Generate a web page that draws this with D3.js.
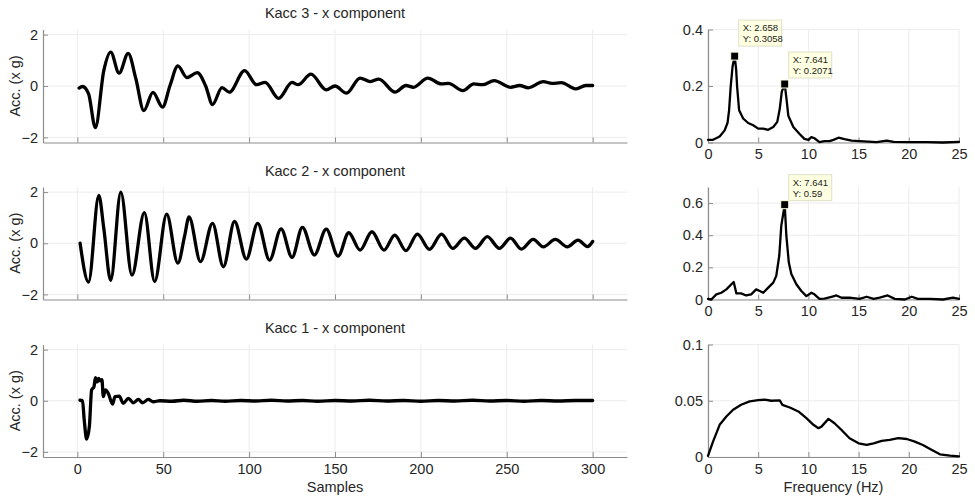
<!DOCTYPE html>
<html><head><meta charset="utf-8">
<script src="https://cdn.jsdelivr.net/npm/d3@7"></script>
<style>
html,body{margin:0;padding:0;background:#fff;}
svg{display:block;font-family:"Liberation Sans",Arial,sans-serif;}
</style></head>
<body>
<svg id="chart" width="975" height="499"></svg>
<script>
// ---------- DATA ----------
const sampleTicks = [0, 50, 100, 150, 200, 250, 300];
const accTicks = [-2, 0, 2];
const freqTicks = [0, 5, 10, 15, 20, 25];
const titles = ["Kacc 3 - x component", "Kacc 2 - x component", "Kacc 1 - x component"];

// Kacc 3 time history: [sample, acc]
const kacc3 = [[1,-0.08],[3,-0.02],[6.5,-0.3],[10.5,-1.62],[15.4,0.6],[19.4,1.32],[24.3,0.5],[29.6,1.27],[34,0.3],[38.7,-0.96],[44,-0.25],[49.6,-0.82],[54,0.03],[58.5,0.78],[63.8,0.33],[69.8,0.52],[74.7,0.0],[78.7,-0.72],[84.2,-0.06],[88.5,-0.24],[97.4,0.6],[104.3,0.05],[109.3,0.14],[117.2,-0.48],[125,0.14],[128.5,0.05],[136,0.46],[144.9,-0.15],[150,0.0],[156.7,-0.28],[164.6,0.31],[170.6,0.17],[175.5,0.27],[185,-0.24],[191.3,0.02],[195.7,-0.05],[204,0.31],[212,0.08],[216,0.1],[224.5,-0.18],[230.8,0.08],[235.8,0.05],[242.7,0.21],[252.2,-0.05],[257.5,0.02],[262.5,-0.07],[271.3,0.17],[276.3,0.1],[281.8,0.13],[290,-0.11],[296,0.02],[300,0.02]];

// Kacc 2 time history
const kacc2 = [[1.6,0.0],[6.5,-1.52],[12.5,1.87],[15.4,0.58],[19.4,-1.45],[25.3,2.0],[31.8,-1.25],[39,1.2],[45,-1.5],[52,1.14],[58.5,-0.78],[62.5,0.3],[65,1.03],[71.7,-0.72],[78.7,0.78],[85,-0.92],[91.5,0.85],[98.4,-0.62],[105,0.78],[111.9,-0.66],[118.6,0.56],[125,-0.55],[131,0.62],[138,-0.46],[144.9,0.55],[151.8,-0.5],[158,0.41],[164.6,-0.27],[171.5,0.45],[178.5,-0.27],[184.8,0.32],[191.3,-0.29],[198,0.36],[205,-0.24],[212,0.36],[218.6,-0.2],[225.3,0.2],[231.8,-0.2],[238.7,0.26],[245.7,-0.2],[252.2,0.2],[258.5,-0.23],[265.4,0.15],[271.3,-0.14],[278.3,0.15],[285.2,-0.14],[291.5,0.12],[297,-0.13],[300,0.07]];

// Kacc 1 time history
const kacc1 = [[1.5,0.02],[3,0.0],[4,-0.75],[5.4,-1.5],[7,-1.0],[8.3,0.42],[9.7,0.55],[10.5,0.9],[11.6,0.74],[12.4,0.87],[13.2,0.78],[14.3,0.83],[15.1,0.16],[16.3,0.42],[18,0.29],[20.5,-0.13],[21.9,0.16],[24.4,0.18],[26.7,-0.1],[29.7,0.09],[32.6,-0.08],[35.5,0.05],[38,-0.08],[41.3,0.05],[44.2,-0.04],[48,0.0],[55,-0.02],[62,0.02],[70,-0.02],[78,0.01],[86,-0.02],[95,0.01],[104,-0.01],[113,0.02],[122,-0.01],[131,0.01],[140,-0.02],[150,0.01],[160,-0.01],[170,0.02],[180,-0.01],[190,0.01],[200,-0.02],[210,0.01],[220,-0.01],[230,0.02],[240,-0.01],[250,0.01],[260,-0.02],[270,0.01],[280,-0.01],[290,0.01],[300,0.01]];

// Spectra: [Hz, amplitude]
const spec3 = [[0,0.0095],[0.5,0.0095],[1.16,0.021],[1.66,0.043],[1.95,0.07],[2.1,0.114],[2.26,0.198],[2.45,0.27],[2.658,0.3058],[2.8,0.26],[2.9,0.198],[3.1,0.114],[3.5,0.085],[4.0,0.069],[4.5,0.061],[5.0,0.049],[5.5,0.049],[6.0,0.045],[6.5,0.055],[6.9,0.073],[7.15,0.12],[7.35,0.18],[7.641,0.2071],[7.8,0.16],[8.0,0.095],[8.5,0.055],[9.1,0.031],[9.6,0.013],[10.0,0.0095],[10.3,0.019],[10.6,0.015],[11.1,0.001],[11.6,0.005],[12.1,0.005],[12.5,0.0095],[13.0,0.017],[13.6,0.012],[14.3,0.007],[15.1,0.005],[16.8,0.001],[17.8,0.007],[18.5,0.002],[20.1,0.001],[21.8,0.001],[23.4,0.0],[25,0.002]];
const spec2 = [[0,0.004],[0.33,0.0],[0.83,0.032],[1.33,0.042],[1.83,0.063],[2.33,0.095],[2.56,0.109],[2.83,0.038],[3.3,0.038],[3.8,0.025],[4.3,0.032],[4.8,0.063],[5.15,0.053],[5.5,0.042],[6.0,0.074],[6.5,0.105],[6.8,0.147],[7.1,0.274],[7.3,0.46],[7.641,0.59],[7.8,0.4],[8.05,0.23],[8.3,0.158],[8.8,0.095],[9.3,0.053],[9.8,0.021],[10.3,0.042],[10.6,0.032],[11.1,0.004],[11.6,0.006],[12.3,0.017],[12.8,0.025],[13.3,0.011],[14.1,0.011],[15.1,0.004],[15.8,0.017],[16.5,0.004],[17.1,0.011],[17.9,0.025],[18.6,0.004],[19.6,0.0],[20.3,0.017],[20.9,0.004],[22.1,0.004],[23.4,0.0],[24.4,0.011],[25,0.004]];
const spec1 = [[0,0.001],[0.5,0.0137],[1.16,0.0286],[1.83,0.036],[2.5,0.042],[3.3,0.0464],[4.15,0.0494],[5.0,0.0506],[5.65,0.0509],[6.3,0.05],[7.15,0.0503],[7.4,0.0464],[8.15,0.044],[9.0,0.0405],[9.8,0.0345],[10.5,0.0286],[11.0,0.0256],[11.3,0.027],[12.0,0.0339],[12.6,0.03],[13.3,0.024],[14.1,0.0167],[15.0,0.0122],[15.8,0.0107],[16.5,0.0122],[17.3,0.0143],[18.1,0.0152],[18.95,0.0167],[19.8,0.016],[20.6,0.0137],[21.4,0.0107],[22.3,0.0062],[23.1,0.0024],[24.1,0.0012],[25,0.0006]];

const specTicks = [[0, 0.2, 0.4], [0, 0.2, 0.4, 0.6], [0, 0.05, 0.1]];
const specMax = [0.4, 0.7, 0.1];
const datatips = [[[2.658, 0.3058], [7.641, 0.2071]], [[7.641, 0.59]], []];

// ---------- LAYOUT ----------
const svg = d3.select("#chart");
const tops = [29.5, 187, 344.5];
const bots = [142.5, 299.5, 457];
const L = {x0: 43, x1: 627};
const R = {x0: 708, x1: 959};
const axisCol = "#8c8c8c", gridCol = "#ececec", txtCol = "#262626";
const fs = 14.5;
const tipOffsets = [[36, 32], [30], []];

const xs = d3.scaleLinear().domain([-20, 320]).range([L.x0, L.x1]);
const xf = d3.scaleLinear().domain([0, 25]).range([R.x0, R.x1]);

function panel(xScale, yScale, xTicks, yTicks, data, curve, lw, showXLabels, yFmt) {
  const g = svg.append("g");
  const [y0, y1] = yScale.range();
  const [xa, xb] = xScale.range();
  g.selectAll(".vg").data(xTicks).join("line")
    .attr("x1", d => xScale(d)).attr("x2", d => xScale(d))
    .attr("y1", y1).attr("y2", y0).attr("stroke", gridCol).attr("stroke-width", 1);
  g.selectAll(".hg").data(yTicks).join("line")
    .attr("x1", xa).attr("x2", xb)
    .attr("y1", d => yScale(d)).attr("y2", d => yScale(d)).attr("stroke", gridCol).attr("stroke-width", 1);
  const xAx = d3.axisBottom(xScale).tickValues(xTicks).tickSizeInner(-5).tickSizeOuter(0)
    .tickPadding(6.5).tickFormat(showXLabels ? d3.format("d") : () => "");
  const gx = g.append("g").attr("transform", `translate(0,${y0})`).call(xAx);
  const yAx = d3.axisLeft(yScale).tickValues(yTicks).tickSizeInner(-5).tickSizeOuter(0)
    .tickPadding(5).tickFormat(yFmt);
  const gy = g.append("g").attr("transform", `translate(${xa},0)`).call(yAx);
  [gx, gy].forEach(a => {
    a.select(".domain").attr("stroke", axisCol).attr("stroke-width", 1.2);
    a.selectAll(".tick line").attr("stroke", axisCol);
    a.selectAll(".tick text").attr("fill", txtCol).attr("font-size", fs)
      .attr("font-family", '"Liberation Sans", Arial, sans-serif');
  });
  const line = d3.line().x(d => xScale(d[0])).y(d => yScale(d[1])).curve(curve);
  g.append("path").datum(data).attr("d", line).attr("fill", "none")
    .attr("stroke", "#000").attr("stroke-width", lw).attr("stroke-linejoin", "round").attr("stroke-linecap", "round");
  return g;
}

const series = [kacc3, kacc2, kacc1];
const specs = [spec3, spec2, spec1];
for (let i = 0; i < 3; i++) {
  const ys = d3.scaleLinear().domain([-2.2, 2.2]).range([bots[i], tops[i]]);
  panel(xs, ys, sampleTicks, accTicks, series[i], d3.curveMonotoneX, 3.3, i === 2, d3.format("d"));
  svg.append("text").attr("x", (L.x0 + L.x1) / 2).attr("y", tops[i] - 11.5)
    .attr("text-anchor", "middle").attr("font-size", 14.5).attr("fill", txtCol).text(titles[i]);
  svg.append("text").attr("transform", `translate(20,${ys(0)}) rotate(-90)`)
    .attr("text-anchor", "middle").attr("font-size", 14.5).attr("fill", txtCol).text("Acc. (x g)");

  const yf = d3.scaleLinear().domain([0, specMax[i]]).range([bots[i], tops[i]]);
  const fmt = v => v === 0 ? "0" : String(v);
  const g = panel(xf, yf, freqTicks, specTicks[i], specs[i], d3.curveLinear, 2.3, true, fmt);
  datatips[i].forEach(([fx, fy], k) => {
    const px = xf(fx), py = yf(fy);
    const bx = px + 4, by = py - tipOffsets[i][k], bw = 43, bh = 26;
    g.append("rect").attr("x", bx).attr("y", by).attr("width", bw).attr("height", bh)
      .attr("fill", "#ffffe1").attr("stroke", "#e0e0c8").attr("stroke-width", 1);
    g.append("text").attr("x", bx + 4).attr("y", by + 11).attr("font-size", 9.5).attr("fill", "#222")
      .text("X: " + fx);
    g.append("text").attr("x", bx + 4).attr("y", by + 22).attr("font-size", 9.5).attr("fill", "#222")
      .text("Y: " + fy);
    g.append("rect").attr("x", px - 4).attr("y", py - 4).attr("width", 8).attr("height", 8)
      .attr("fill", "#000").attr("stroke", "#ffffe1").attr("stroke-width", 1);
  });
}

svg.append("text").attr("x", (L.x0 + L.x1) / 2).attr("y", 492).attr("text-anchor", "middle")
  .attr("font-size", 14.5).attr("fill", txtCol).text("Samples");
svg.append("text").attr("x", (R.x0 + R.x1) / 2).attr("y", 492).attr("text-anchor", "middle")
  .attr("font-size", 14.5).attr("fill", txtCol).text("Frequency (Hz)");
</script>
</body></html>
